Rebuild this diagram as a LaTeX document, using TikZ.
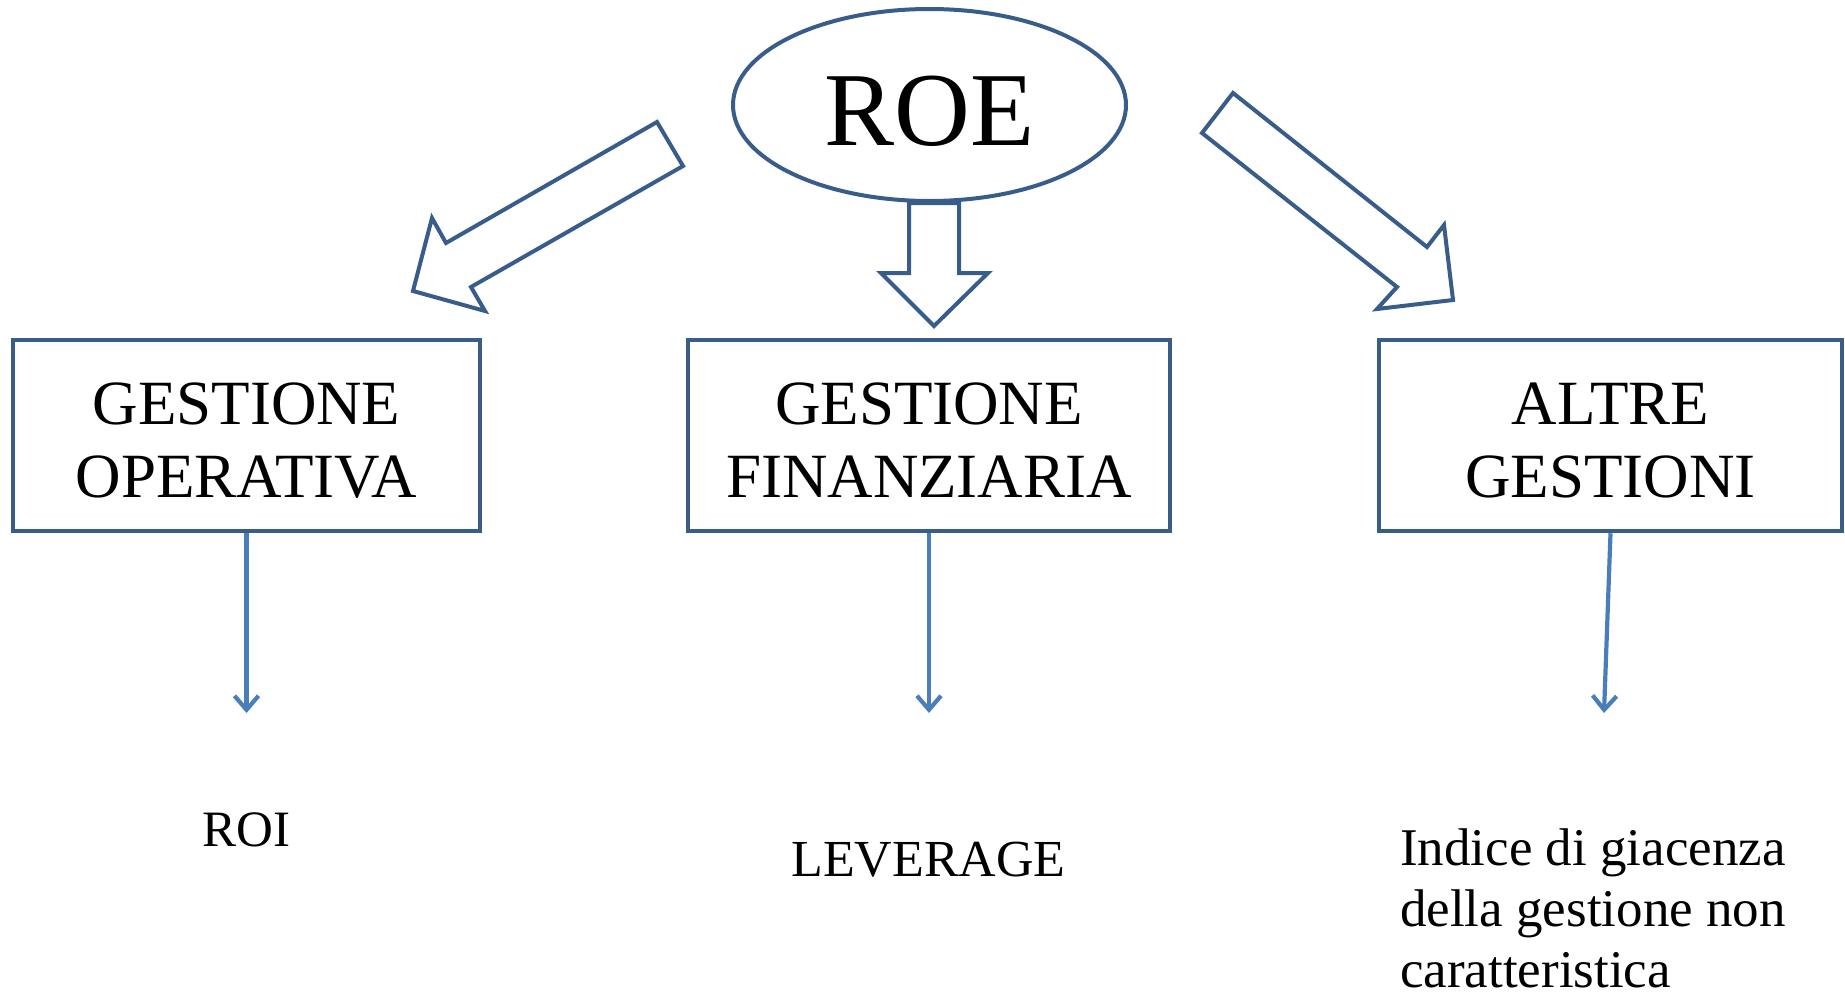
\documentclass[tikz,border=0pt]{standalone}
\usepackage{fontspec}
\setmainfont{Liberation Serif}
\usetikzlibrary{shapes.geometric,arrows.meta}
\definecolor{boxblue}{RGB}{56,93,138}
\definecolor{linkblue}{RGB}{74,126,187}
\begin{document}
\begin{tikzpicture}[x=1pt,y=-1pt,
  gbox/.style={draw=boxblue,line width=4.5pt,rectangle,inner sep=0pt,minimum height=191pt,align=center,text height=123pt,text depth=0pt,font=\fontsize{63}{73}\selectfont},
  blockarrow/.style={draw=boxblue,line width=4pt,line join=miter},
  link/.style={draw=linkblue,line width=4.2pt,-{Straight Barb[length=14pt,width=24pt]}},
  result/.style={inner sep=0pt,anchor=base,font=\fontsize{51}{55}\selectfont}]
\useasboundingbox (0,0) rectangle (1845,996);
% block arrows
\draw[blockarrow] (657,122) -- (683,166) -- (471,287) -- (485,311) -- (413,291) -- (432,218) -- (446,243) -- cycle;
\draw[blockarrow] (909,203) -- (959,203) -- (959,273) -- (988,273) -- (934,326) -- (881,273) -- (909,273) -- cycle;
\draw[blockarrow] (1233,93) -- (1427,247) -- (1444,225) -- (1453,300) -- (1377,309) -- (1397,287) -- (1202,133) -- cycle;
% top ellipse
\node[ellipse,draw=boxblue,line width=4pt,minimum width=393pt,minimum height=192pt,inner sep=0pt,text height=80pt,text depth=0pt,font=\fontsize{105}{110}\selectfont] (roe) at (929.5,105) {ROE};
% boxes
\node[gbox,minimum width=467pt] (op) at (246.5,435.5) {GESTIONE\\OPERATIVA};
\node[gbox,minimum width=482pt] (fin) at (929,435.5) {GESTIONE\\FINANZIARIA};
\node[gbox,minimum width=463pt] (alt) at (1610.5,435.5) {ALTRE\\GESTIONI};
% results
\node[result] (roi) at (246.5,846) {ROI};
\node[result,font=\fontsize{52}{55}\selectfont] (lev) at (928.5,876) {LEVERAGE};
\node[inner sep=0pt,anchor=north west,align=left,font=\fontsize{53}{61}\selectfont] (ind) at (1400,829) {Indice di giacenza\\della gestione non\\caratteristica};
% thin arrows
\coordinate (roiend) at (246.5,713);
\coordinate (levend) at (929,713);
\coordinate (indend) at (1604,713);
\draw[link] (op.south) -- (roiend);
\draw[link] (fin.south) -- (levend);
\draw[link] (alt.south) -- (indend);
\end{tikzpicture}
\end{document}
